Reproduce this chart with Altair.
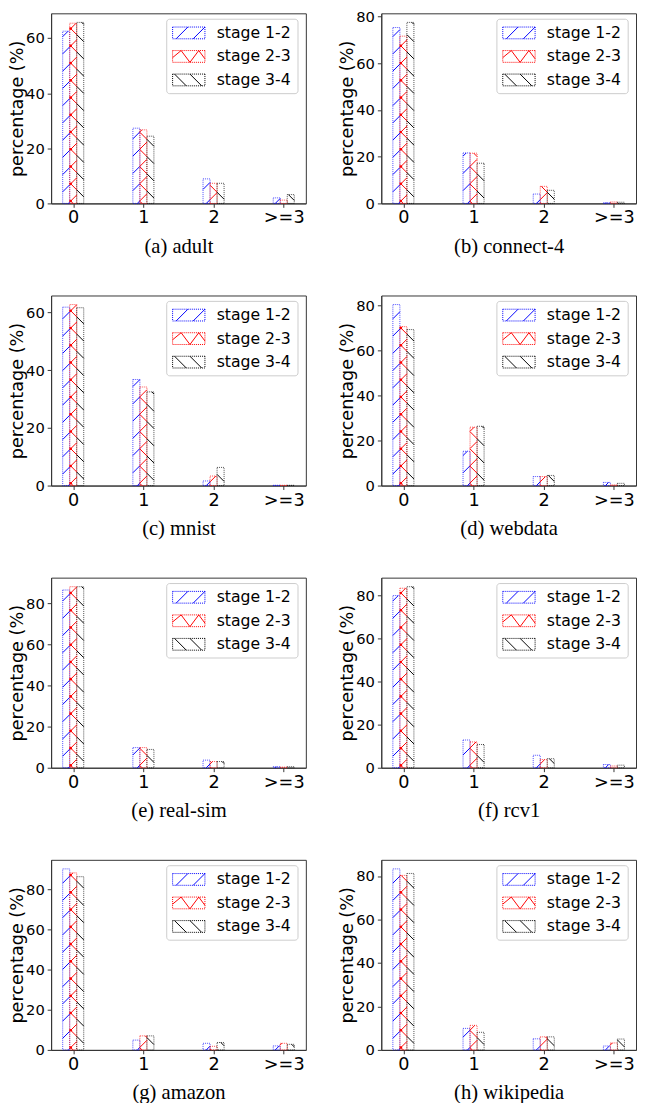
import json
import numpy as np
import pandas as pd
import altair as alt

# ---------------- data ----------------
categories = ["0", "1", "2", ">=3"]
stages = ["stage 1-2", "stage 2-3", "stage 3-4"]
captions = ["(a) adult", "(b) connect-4", "(c) mnist", "(d) webdata",
            "(e) real-sim", "(f) rcv1", "(g) amazon", "(h) wikipedia"]

adult_12 = [62.5, 27.3, 8.9, 2.0]
adult_23 = [65.4, 26.7, 7.3, 1.2]
adult_34 = [65.7, 24.4, 7.3, 3.2]

connect4_12 = [75.3, 21.6, 4.0, 0.3]
connect4_23 = [71.6, 21.5, 7.3, 0.6]
connect4_34 = [77.5, 17.2, 5.6, 0.5]

mnist_12 = [61.9, 36.8, 1.6, 0.1]
mnist_23 = [62.8, 34.2, 3.3, 0.1]
mnist_34 = [61.7, 32.5, 6.3, 0.1]

webdata_12 = [80.3, 15.2, 4.0, 1.4]
webdata_23 = [70.5, 25.9, 4.0, 0.3]
webdata_34 = [69.2, 26.3, 4.5, 1.0]

realsim_12 = [86.5, 9.8, 3.7, 0.5]
realsim_23 = [88.1, 9.8, 3.0, 0.3]
realsim_34 = [88.1, 8.9, 3.0, 0.5]

rcv1_12 = [80.1, 12.9, 5.8, 1.5]
rcv1_23 = [83.5, 12.0, 3.8, 0.8]
rcv1_34 = [84.2, 10.8, 4.2, 1.2]

amazon_12 = [90.4, 4.9, 3.3, 2.0]
amazon_23 = [88.4, 7.0, 1.8, 3.3]
amazon_34 = [86.5, 7.0, 3.7, 2.8]

wikipedia_12 = [83.3, 9.9, 5.1, 1.8]
wikipedia_23 = [80.3, 11.3, 6.0, 3.2]
wikipedia_34 = [81.2, 8.1, 6.0, 5.0]

series = [
    [adult_12, adult_23, adult_34],
    [connect4_12, connect4_23, connect4_34],
    [mnist_12, mnist_23, mnist_34],
    [webdata_12, webdata_23, webdata_34],
    [realsim_12, realsim_23, realsim_34],
    [rcv1_12, rcv1_23, rcv1_34],
    [amazon_12, amazon_23, amazon_34],
    [wikipedia_12, wikipedia_23, wikipedia_34],
]

# ---------------- style ----------------
colors = ["#0000ff", "#ff0000", "#000000"]
W, H = 260, 194
XMIN, XMAX = -0.315, 3.315
BAR_W = 0.1
OFFSETS = [-0.1, 0.0, 0.1]
HATCH = ["/", "x", "\\"]
P = 17.6
PHASE_UP = 0.0
PHASE_DN = 4.8
FRAME = "#333333"

# legend geometry (pixels, relative to the plot's top-left corner)
LEG_LEFT, LEG_TOP, LEG_W, LEG_H = 118, 6, 134, 76
LEG_ROW0, LEG_ROW_STEP = 20, 24
PATCH_LEFT, LABEL_LEFT = 124, 169


def dotted_rect(x0, y0, x1, y1, dash=1 / 6, gap=1 / 6):
    parts = []
    for yy in (y0, y1):
        t = x0
        while t < x1 - 1e-6:
            parts.append(f"M{t:.3f},{yy:.3f}L{min(t + dash, x1):.3f},{yy:.3f}")
            t += dash + gap
    for xx in (x0, x1):
        t = y0
        while t < y1 - 1e-6:
            parts.append(f"M{xx:.3f},{t:.3f}L{xx:.3f},{min(t + dash, y1):.3f}")
            t += dash + gap
    return "".join(parts)


# legend patches (unit = 6px -> symbol size 144; patch is 33 x 12 px)
box = dotted_rect(-1, -1, 4.5, 1)
legend_shapes = [
    box + "M-0.4,1L1.6,-1M2.5,1L4.5,-1",
    box + "M-1,0.2L0.45,-1L1.95,1L3.45,-1L4.5,0.4",
    box + "M-0.67,-1L1.33,1M1.95,-1L3.95,1",
]

label_expr = json.dumps(categories) + "[datum.value]"


def panel(idx):
    ser = series[idx]
    rows = []
    for si, st in enumerate(stages):
        for ci, cat in enumerate(categories):
            c = ci + OFFSETS[si]
            rows.append(dict(stage=st, cat=cat, xc=c, xl=c - BAR_W / 2,
                             xr=c + BAR_W / 2, value=ser[si][ci], base=0.0))
    bars_df = pd.DataFrame(rows)
    ymax = 1.05 * bars_df["value"].max()
    sx = W / (XMAX - XMIN)
    sy = H / ymax

    def px2x(p):
        return p / sx + XMIN

    def px2y_top(p):
        return ymax - p / sy

    segs, dots = [], []
    for r in rows:
        x0p = (r["xl"] - XMIN) * sx
        x1p = (r["xr"] - XMIN) * sx
        h = r["value"] * sy
        kind = HATCH[stages.index(r["stage"])]
        ups, dns = [], []
        if kind in ("/", "x"):
            kmin = int(np.floor((-x1p - PHASE_UP) / P)) - 1
            kmax = int(np.ceil((h - x0p - PHASE_UP) / P)) + 1
            for k in range(kmin, kmax + 1):
                cc = k * P + PHASE_UP
                xs, xe = max(x0p, -cc), min(x1p, h - cc)
                if xe - xs > 0.2:
                    segs.append((r["stage"], xs, xs + cc, xe, xe + cc))
                    ups.append(cc)
        if kind in ("\\", "x"):
            kmin = int(np.floor((x0p - PHASE_DN) / P)) - 1
            kmax = int(np.ceil((x1p + h - PHASE_DN) / P)) + 1
            for k in range(kmin, kmax + 1):
                cc = k * P + PHASE_DN
                xs, xe = max(x0p, cc - h), min(x1p, cc)
                if xe - xs > 0.2:
                    segs.append((r["stage"], xs, -xs + cc, xe, -xe + cc))
                    dns.append(cc)
        if kind == "x":
            for c1 in ups:
                for c2 in dns:
                    xi, yi = (c2 - c1) / 2, (c1 + c2) / 2
                    if x0p <= xi <= x1p and 0 <= yi <= h:
                        dots.append((r["stage"], xi, yi))

    seg_df = pd.DataFrame(segs, columns=["stage", "xa", "ya", "xb", "yb"])
    for a in ("xa", "xb"):
        seg_df[a] = px2x(seg_df[a])
    for a in ("ya", "yb"):
        seg_df[a] = seg_df[a] / sy
    dot_df = pd.DataFrame(dots, columns=["stage", "xa", "ya"])
    dot_df["xa"] = px2x(dot_df["xa"])
    dot_df["ya"] = dot_df["ya"] / sy

    # legend pieces
    box_df = pd.DataFrame([dict(xa=px2x(LEG_LEFT), xb=px2x(LEG_LEFT + LEG_W),
                                ya=px2y_top(LEG_TOP), yb=px2y_top(LEG_TOP + LEG_H))])
    ent_df = pd.DataFrame([dict(stage=st,
                                xp=px2x(PATCH_LEFT + 6),
                                xt=px2x(LABEL_LEFT),
                                ye=px2y_top(LEG_ROW0 + i * LEG_ROW_STEP))
                           for i, st in enumerate(stages)])

    xscale = alt.Scale(domain=[XMIN, XMAX], nice=False, zero=False)
    yscale = alt.Scale(domain=[0, ymax], nice=False, zero=False)
    xaxis = alt.Axis(values=list(range(len(categories))), labelExpr=label_expr,
                     title=captions[idx], titleFont="Liberation Serif",
                     titleFontSize=21, titleFontWeight="normal", titleY=33,
                     labelFontSize=18, labelPadding=2, labelAngle=0)
    yaxis = alt.Axis(values=list(range(0, int(ymax) + 1, 20)),
                     title="percentage (%)", titleFontSize=18,
                     titleFontWeight="normal", titleX=-25,
                     labelFontSize=15, labelPadding=3)
    stroke_scale = alt.Scale(domain=stages, range=colors)

    def X(f):
        return alt.X(f, scale=xscale, axis=xaxis)

    def Y(f):
        return alt.Y(f, scale=yscale, axis=yaxis)

    bars = alt.Chart(bars_df).mark_rect(
        fillOpacity=0, strokeWidth=1, strokeDash=[1, 1], strokeOpacity=0.7
    ).encode(
        x=X("xl:Q"), x2="xr:Q", y=Y("value:Q"), y2="base:Q",
        stroke=alt.Stroke("stage:N", scale=stroke_scale, legend=None),
    )
    hatch = alt.Chart(seg_df).mark_rule(strokeWidth=1).encode(
        x=X("xa:Q"), x2="xb:Q", y=Y("ya:Q"), y2="yb:Q",
        stroke=alt.Stroke("stage:N", scale=stroke_scale, legend=None),
    )
    layers = [bars, hatch]
    if len(dot_df):
        layers.append(alt.Chart(dot_df).mark_circle(size=7, opacity=1, color="#ff0000").encode(
            x=X("xa:Q"), y=Y("ya:Q")))

    leg_box = alt.Chart(box_df).mark_rect(
        fill="white", fillOpacity=0.85, stroke="#cccccc", strokeWidth=1, cornerRadius=3
    ).encode(x=X("xa:Q"), x2="xb:Q", y=Y("ya:Q"), y2="yb:Q")
    leg_patch = alt.Chart(ent_df).mark_point(
        filled=False, opacity=1, strokeWidth=1, size=144
    ).encode(
        x=X("xp:Q"), y=Y("ye:Q"),
        stroke=alt.Stroke("stage:N", scale=stroke_scale, legend=None),
        shape=alt.Shape("stage:N", scale=alt.Scale(domain=stages, range=legend_shapes),
                        legend=None),
    )
    leg_text = alt.Chart(ent_df).mark_text(
        align="left", baseline="middle", font="DejaVu Sans", fontSize=16, color="black"
    ).encode(x=X("xt:Q"), y=Y("ye:Q"), text="stage:N")
    layers += [leg_box, leg_patch, leg_text]
    return alt.layer(*layers).properties(width=W, height=H)


def indep(c):
    return c.resolve_scale(shape="independent", stroke="independent")


rows_charts = [indep(alt.hconcat(panel(i), panel(i + 1), spacing=32))
               for i in range(0, 8, 2)]

chart = indep(alt.vconcat(*rows_charts, spacing=38)).properties(
    padding={"top": -11, "left": 0, "right": 0, "bottom": 0}
).configure_view(
    stroke=FRAME, strokeWidth=1
).configure_axis(
    grid=False, domainColor=FRAME, domainWidth=1, tickColor=FRAME, tickWidth=1,
    tickSize=4, labelColor="black", titleColor="black",
    labelFont="DejaVu Sans", titleFont="DejaVu Sans"
)

chart.save("out.html", embed_options={"renderer": "svg", "actions": False})
